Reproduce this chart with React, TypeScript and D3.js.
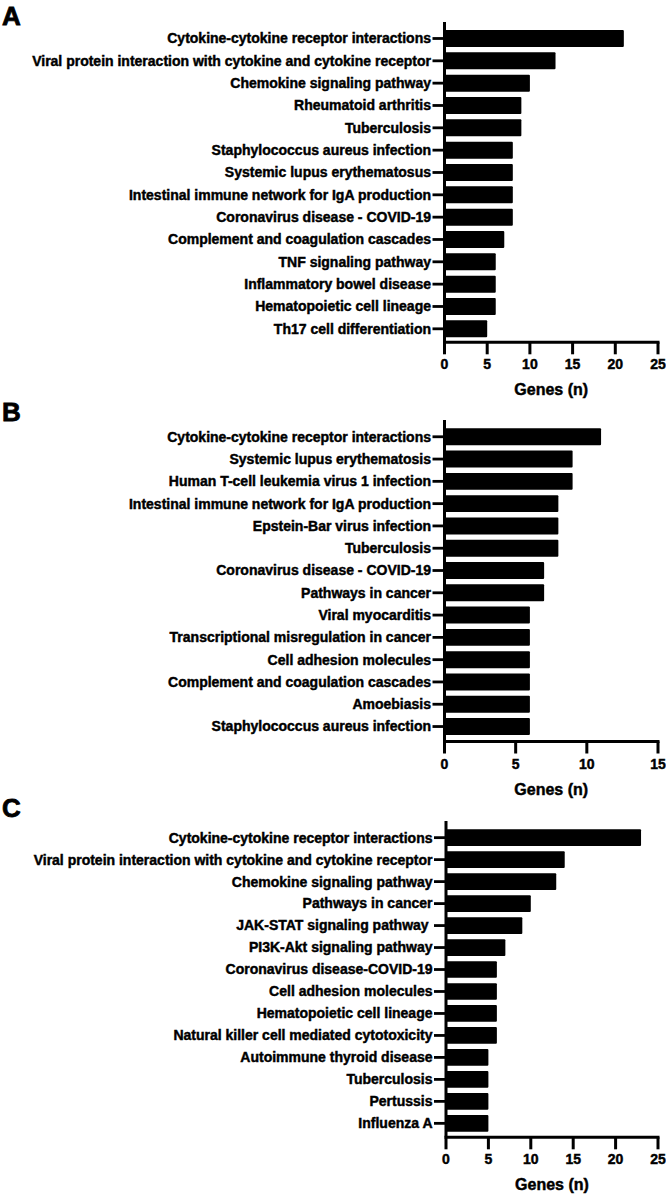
import React from "react";
import * as d3 from "d3";

const pathwaysA = [
  "Cytokine-cytokine receptor interactions",
  "Viral protein interaction with cytokine and cytokine receptor",
  "Chemokine signaling pathway",
  "Rheumatoid arthritis",
  "Tuberculosis",
  "Staphylococcus aureus infection",
  "Systemic lupus erythematosus",
  "Intestinal immune network for IgA production",
  "Coronavirus disease - COVID-19",
  "Complement and coagulation cascades",
  "TNF signaling pathway",
  "Inflammatory bowel disease",
  "Hematopoietic cell lineage",
  "Th17 cell differentiation",
];
const genesA = [21, 13, 10, 9, 9, 8, 8, 8, 8, 7, 6, 6, 6, 5];
const ticksA = [0, 5, 10, 15, 20, 25];

const pathwaysB = [
  "Cytokine-cytokine receptor interactions",
  "Systemic lupus erythematosis",
  "Human T-cell leukemia virus 1 infection",
  "Intestinal immune network for IgA production",
  "Epstein-Bar virus infection",
  "Tuberculosis",
  "Coronavirus disease - COVID-19",
  "Pathways in cancer",
  "Viral myocarditis",
  "Transcriptional misregulation in cancer",
  "Cell adhesion molecules",
  "Complement and coagulation cascades",
  "Amoebiasis",
  "Staphylococcus aureus infection",
];
const genesB = [11, 9, 9, 8, 8, 8, 7, 7, 6, 6, 6, 6, 6, 6];
const ticksB = [0, 5, 10, 15];

const pathwaysC = [
  "Cytokine-cytokine receptor interactions",
  "Viral protein interaction with cytokine and cytokine receptor",
  "Chemokine signaling pathway",
  "Pathways in cancer",
  "JAK-STAT signaling pathway ",
  "PI3K-Akt signaling pathway",
  "Coronavirus disease-COVID-19",
  "Cell adhesion molecules",
  "Hematopoietic cell lineage",
  "Natural killer cell mediated cytotoxicity",
  "Autoimmune thyroid disease",
  "Tuberculosis",
  "Pertussis",
  "Influenza A",
];
const genesC = [23, 14, 13, 10, 9, 7, 6, 6, 6, 6, 5, 5, 5, 5];
const ticksC = [0, 5, 10, 15, 20, 25];

const FONT = "'Liberation Sans', Arial, Helvetica, sans-serif";
const TEXT_STROKE = 0.45;

type PanelProps = {
  letter: string;
  letterY: number;
  labels: string[];
  values: number[];
  ticks: number[];
  x0: number;
  x1: number;
  axisTop: number;
  barTop: number;
  barBottom: number;
  axisY: number;
};

function Panel(p: PanelProps) {
  const max = p.ticks[p.ticks.length - 1];
  const x = d3.scaleLinear().domain([0, max]).range([p.x0, p.x1]);
  const n = p.labels.length;
  const pi = 0.24;
  const po = 0.12;
  const step = (p.barBottom - p.barTop) / (n - pi);
  const y = d3
    .scaleBand<string>()
    .domain(p.labels.map((_, i) => String(i)))
    .range([p.barTop - po * step, p.barBottom + po * step])
    .paddingInner(pi)
    .paddingOuter(po);
  const bw = y.bandwidth();
  const tickLen = 12;
  const lw = 3;
  const txt = { fontWeight: "bold" as const, fontFamily: FONT, stroke: "#000", strokeWidth: TEXT_STROKE };
  return (
    <g>
      <text x={2} y={p.letterY} fontSize={26} {...txt} strokeWidth={0.8}>
        {p.letter}
      </text>
      {p.values.map((v, i) => (
        <rect
          key={"b" + i}
          x={x(0)}
          y={y(String(i))}
          width={x(v) - x(0)}
          height={bw}
          fill="#000"
          rx={1}
        />
      ))}
      {p.labels.map((l, i) => {
        const cy = (y(String(i)) as number) + bw / 2;
        return (
          <g key={"l" + i}>
            <line x1={x(0) - tickLen} x2={x(0)} y1={cy} y2={cy} stroke="#000" strokeWidth={2.8} />
            <text
              x={x(0) - tickLen - 1.5}
              y={cy}
              dy="0.35em"
              textAnchor="end"
              fontSize={14}
              {...txt}
              style={{ whiteSpace: "pre" }}
            >
              {l}
            </text>
          </g>
        );
      })}
      <line x1={x(0)} x2={x(0)} y1={p.axisTop} y2={p.axisY} stroke="#000" strokeWidth={lw} />
      <line x1={x(0) - lw / 2} x2={x(max) + lw / 2} y1={p.axisY} y2={p.axisY} stroke="#000" strokeWidth={lw} />
      {p.ticks.map((t) => (
        <g key={"t" + t}>
          <line x1={x(t)} x2={x(t)} y1={p.axisY} y2={p.axisY + tickLen} stroke="#000" strokeWidth={lw} />
          <text x={x(t)} y={p.axisY + 27} textAnchor="middle" fontSize={14} {...txt}>
            {t}
          </text>
        </g>
      ))}
      <text x={(p.x0 + p.x1) / 2} y={p.axisY + 53} textAnchor="middle" fontSize={16} {...txt}>
        Genes (n)
      </text>
    </g>
  );
}

export default function App() {
  return (
    <svg
      width={666}
      height={1197}
      viewBox="0 0 666 1197"
      style={{ position: "absolute", left: 0, top: 0, background: "#fff" }}
    >
      <rect x={0} y={0} width={666} height={1197} fill="#fff" />
      <Panel
        letter="A"
        letterY={25}
        labels={pathwaysA}
        values={genesA}
        ticks={ticksA}
        x0={444.5}
        x1={658}
        axisTop={22}
        barTop={30}
        barBottom={337.3}
        axisY={342.3}
      />
      <Panel
        letter="B"
        letterY={421}
        labels={pathwaysB}
        values={genesB}
        ticks={ticksB}
        x0={444.5}
        x1={658}
        axisTop={420}
        barTop={428.3}
        barBottom={735}
        axisY={741.5}
      />
      <Panel
        letter="C"
        letterY={817}
        labels={pathwaysC}
        values={genesC}
        ticks={ticksC}
        x0={446}
        x1={658}
        axisTop={821}
        barTop={829.3}
        barBottom={1131.7}
        axisY={1137.3}
      />
    </svg>
  );
}
